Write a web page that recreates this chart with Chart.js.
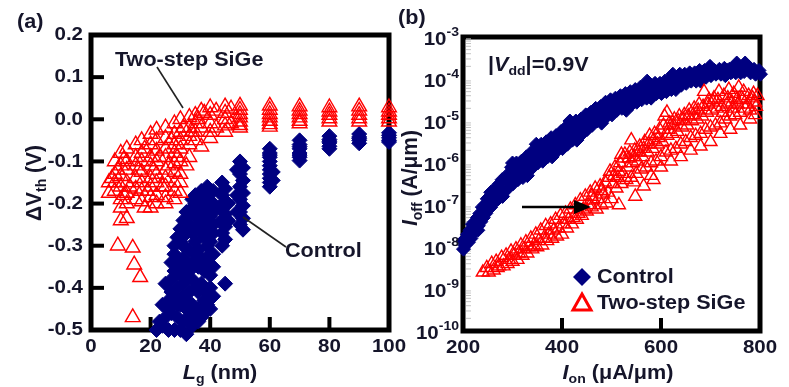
<!DOCTYPE html>
<html><head><meta charset="utf-8">
<script src="https://cdn.jsdelivr.net/npm/chart.js@4.4.1/dist/chart.umd.min.js"></script>
<style>
html,body{margin:0;padding:0;background:#fff;}
#wrap{position:relative;width:789px;height:387px;background:#fff;}
canvas{position:absolute;left:0;top:0;width:789px;height:387px;}
</style></head><body>
<div id="wrap"><canvas id="ca" width="789" height="387"></canvas><canvas id="cb" width="789" height="387"></canvas></div>
<script>
// ---------------- Panel (a): ΔVth vs Lg ----------------
const seriesNames = ['Control', 'Two-step SiGe'];
const lgTicks = [0, 20, 40, 60, 80, 100];
const lgLabels = ['0', '20', '40', '60', '80', '100'];
const dvTicks = [0.2, 0.1, 0.0, -0.1, -0.2, -0.3, -0.4, -0.5];
const dvLabels = ['0.2', '0.1', '0.0', '-0.1', '-0.2', '-0.3', '-0.4', '-0.5'];

const ctrlLg = [
  100,100,100,100,100, 90,90,90,90,90, 80,80,80,80,80,80, 70,70,70,70,70,70,70,70,
  60,60,60,60,60,60,60,60,60,60,60,61,61,
  50,51,50,51,50,51,50,51,50,51,50,51,49,49,49,
  44,45,44,45,44,45,44,45,44,45,44,45,46,46,
  22,24,26,28,30,32,25,27,29,31,33,35,
  24,26,28,30,32,34,36,38,40,
  25,27,29,31,33,35,37,39,41,
  27,28,30,31,33,34,36,38,40,
  28,29,30,31,32,33,35,36,37,39,41,
  31,32,33,34,35,36,37,38,39,40,41,
  34,35,36,37,38,39,40,41,
  23,26,29,32,34,36,27,30,32,34,36,38,29,32,35,37,39,30,34,38,40,33,36,38,40,35,37,39,41,41,41,40,41,40,39,37,31,28
];
const ctrlDV = [
  -0.032,-0.038,-0.044,-0.05,-0.054, -0.035,-0.042,-0.046,-0.05,-0.057, -0.04,-0.048,-0.052,-0.056,-0.064,-0.07, -0.05,-0.06,-0.065,-0.07,-0.08,-0.085,-0.09,-0.098,
  -0.07,-0.08,-0.085,-0.09,-0.1,-0.11,-0.12,-0.13,-0.14,-0.15,-0.16,-0.125,-0.145,
  -0.1,-0.115,-0.13,-0.145,-0.16,-0.175,-0.19,-0.205,-0.22,-0.235,-0.25,-0.262,-0.12,-0.18,-0.22,
  -0.15,-0.165,-0.18,-0.195,-0.21,-0.225,-0.24,-0.255,-0.27,-0.285,-0.3,-0.39,-0.2,-0.24,
  -0.5,-0.49,-0.5,-0.5,-0.5,-0.51,-0.47,-0.46,-0.47,-0.48,-0.47,-0.46,
  -0.44,-0.43,-0.42,-0.44,-0.43,-0.44,-0.45,-0.46,-0.45,
  -0.39,-0.38,-0.4,-0.39,-0.41,-0.4,-0.39,-0.41,-0.42,
  -0.34,-0.32,-0.35,-0.33,-0.36,-0.34,-0.35,-0.36,-0.37,
  -0.3,-0.28,-0.26,-0.3,-0.27,-0.31,-0.29,-0.31,-0.27,-0.3,-0.32,
  -0.24,-0.22,-0.25,-0.21,-0.23,-0.25,-0.22,-0.24,-0.26,-0.23,-0.25,
  -0.19,-0.2,-0.18,-0.19,-0.17,-0.18,-0.17,-0.2,
  -0.48,-0.45,-0.44,-0.45,-0.49,-0.48,-0.41,-0.37,-0.38,-0.38,-0.41,-0.43,-0.33,-0.34,-0.32,-0.33,-0.34,-0.29,-0.27,-0.28,-0.29,-0.23,-0.21,-0.21,-0.2,-0.18,-0.17,-0.16,-0.17,-0.22,-0.27,-0.32,-0.35,-0.4,-0.44,-0.47,-0.42,-0.36
];
const sigeLg = [
  100,100,100,100,100, 90,90,90,90,90, 80,80,80,80,80, 70,70,70,70,70,70,
  60,60,60,60,60,60,60, 50,50,50,50,50,50,50, 45,45,45,45,45, 40,40,40,40,40,
  37,37,37, 35,35,35,35, 33,33,33,33,33,
  30,30,30,30,30,30,30,30, 28,28,28,28,28,28,28,28,28,
  25,25,25,25,25,25,25,25,25, 22,22,22,22,22,22,22,22,
  20,20,20,20,20,20,20,20, 17,17,17,17,17,17,17, 15,15,15,15,15,15,
  12,12,12,12,12,12,12, 10,10,10,10,10,10,10, 8,8,8,8, 6,6,
  9,14,14.5,16.5,14,
  7,9,11,13,16,18,19,21,23,24,26,27,29,31,32,34,36,38,42,42,47,47,11,18
];
const sigeDV = [
  0.028,0.018,0.01,0.002,-0.006, 0.03,0.02,0.01,0.002,-0.006, 0.028,0.018,0.01,0.002,-0.006, 0.03,0.02,0.012,0.004,-0.004,-0.01,
  0.032,0.022,0.012,0.004,-0.004,-0.012,-0.018, 0.032,0.022,0.012,0.004,-0.006,-0.014,-0.02, 0.03,0.015,0.0,-0.015,-0.03, 0.028,0.01,-0.01,-0.03,-0.045,
  0.02,-0.02,-0.065, 0.01,-0.01,-0.03,-0.05, 0.005,-0.02,-0.04,-0.06,-0.09,
  0.0,-0.03,-0.05,-0.07,-0.1,-0.13,-0.15,-0.175, -0.01,-0.035,-0.06,-0.08,-0.105,-0.125,-0.15,-0.17,-0.19,
  -0.02,-0.045,-0.07,-0.09,-0.12,-0.14,-0.16,-0.185,-0.2, -0.025,-0.05,-0.075,-0.1,-0.13,-0.15,-0.18,-0.2,
  -0.035,-0.06,-0.09,-0.11,-0.14,-0.16,-0.185,-0.21, -0.05,-0.08,-0.1,-0.125,-0.15,-0.17,-0.195, -0.06,-0.09,-0.11,-0.14,-0.165,-0.19,
  -0.07,-0.1,-0.12,-0.15,-0.175,-0.2,-0.235, -0.08,-0.11,-0.135,-0.16,-0.19,-0.21,-0.24, -0.1,-0.13,-0.15,-0.17, -0.15,-0.175,
  -0.3,-0.305,-0.345,-0.375,-0.47,
  -0.14,-0.12,-0.095,-0.16,-0.12,-0.07,-0.17,-0.12,-0.09,-0.16,-0.11,-0.05,-0.09,-0.02,-0.11,-0.03,0.0,0.015,0.02,-0.02,0.025,-0.01,-0.18,-0.21
];

// ---------------- Panel (b): Ioff vs Ion ----------------
const ionTicks = [200, 400, 600, 800];
const ionLabels = ['200', '400', '600', '800'];
const ioffTicks = [1e-3, 1e-4, 1e-5, 1e-6, 1e-7, 1e-8, 1e-9, 1e-10];
const ioffExponents = ['-3', '-4', '-5', '-6', '-7', '-8', '-9', '-10'];

const ctrlIon = [
  200,201,204,206,209,211,214,216,219,221,224,226,229,231,234,236,239,241,244,246,249,251,254,256,259,261,264,266,269,271,274,276,279,281,
  288,291,294, 298,301,304, 308,311,314, 318,321,324, 328,331,334, 338,341,344, 348,351,354, 358,361,364, 368,371,374, 378,381,384,
  388,391,394, 398,401,404, 408,411,414, 418,421,424, 428,431,434, 438,441,444, 448,451,454, 458,461,464, 468,471,474, 478,481,484,
  488,491,494, 498,501,504, 508,511,514, 518,521,524, 528,531,534, 538,541,544, 548,551,554, 558,561,564, 568,571,574, 578,581,584,
  588,591,594, 598,601,604, 608,611,614, 618,621,624, 628,631,634, 638,641,644, 648,651,654, 658,661,664, 668,671,674, 678,681,684,
  688,691,694, 698,701,704, 708,711,714, 718,721,724, 728,731,734, 738,741,744, 748,751,754, 758,761,764, 770,768,774,
  778,781, 788,791, 798,801,
  256,300,348,416,572,624,699,753, 230,280,330,380,430,480,530,580,630,680,730
];
const ctrlIoff = [
  1.4e-8,8.9e-9,1.1e-8,1.6e-8,2.0e-8,1.3e-8,2.5e-8,1.6e-8,3.5e-8,2.2e-8,4.0e-8,2.5e-8,5.0e-8,3.2e-8,6.3e-8,4.0e-8,8.9e-8,5.0e-8,1.0e-7,6.3e-8,1.4e-7,7.9e-8,1.6e-7,8.9e-8,2.0e-7,1.1e-7,2.2e-7,1.3e-7,2.8e-7,1.4e-7,3.2e-7,1.6e-7,4.0e-7,2.0e-7,
  5.0e-7,2.5e-7,3.5e-7, 7.9e-7,3.2e-7,5.0e-7, 1.0e-6,4.0e-7,6.3e-7, 1.1e-6,4.5e-7,7.1e-7, 1.4e-6,6.3e-7,1.0e-6, 1.8e-6,7.9e-7,1.1e-6, 2.0e-6,1.0e-6,1.4e-6, 2.8e-6,1.1e-6,1.8e-6, 3.2e-6,1.4e-6,2.2e-6, 4.0e-6,1.8e-6,2.5e-6,
  4.5e-6,2.0e-6,3.2e-6, 5.6e-6,2.2e-6,3.5e-6, 7.1e-6,2.8e-6,4.5e-6, 7.9e-6,3.5e-6,5.0e-6, 1.0e-5,4.5e-6,6.3e-6, 1.1e-5,5.0e-6,7.9e-6, 1.4e-5,6.3e-6,8.9e-6, 1.6e-5,7.9e-6,1.1e-5, 2.0e-5,1.0e-5,1.4e-5, 2.2e-5,1.1e-5,1.6e-5,
  2.8e-5,1.3e-5,2.0e-5, 3.2e-5,1.4e-5,2.2e-5, 3.5e-5,1.8e-5,2.5e-5, 4.0e-5,2.0e-5,2.8e-5, 4.5e-5,2.2e-5,3.2e-5, 5.0e-5,2.5e-5,3.5e-5, 5.6e-5,2.8e-5,4.0e-5, 6.3e-5,3.2e-5,4.5e-5, 7.1e-5,3.5e-5,5.0e-5, 7.1e-5,4.0e-5,5.6e-5,
  7.9e-5,4.5e-5,5.6e-5, 7.9e-5,4.5e-5,6.3e-5, 8.9e-5,5.0e-5,7.1e-5, 1.0e-4,5.6e-5,7.9e-5, 1.1e-4,6.3e-5,7.9e-5, 1.3e-4,7.1e-5,8.9e-5, 1.3e-4,7.9e-5,1.0e-4, 1.4e-4,8.9e-5,1.1e-4, 1.4e-4,8.9e-5,1.1e-4, 1.6e-4,1.0e-4,1.3e-4,
  1.6e-4,1.1e-4,1.3e-4, 1.6e-4,1.2e-4,1.4e-4, 1.6e-4,1.3e-4,1.4e-4, 1.7e-4,1.3e-4,1.5e-4, 1.8e-4,1.3e-4,1.6e-4, 1.7e-4,1.4e-4,1.5e-4, 1.9e-4,1.4e-4,1.6e-4, 1.8e-4,1.4e-4,1.6e-4, 2.4e-4,1.5e-4,1.8e-4,
  1.9e-4,1.4e-4, 1.7e-4,1.3e-4, 1.6e-4,1.3e-4,
  2.0e-7,1.0e-6,2.8e-6,1.0e-5,8.9e-5,1.3e-4,2.0e-4,2.4e-4, 2.5e-8,1.6e-7,5.0e-7,1.4e-6,3.5e-6,8.9e-6,1.8e-5,3.5e-5,5.6e-5,8.9e-5,1.2e-4
];
const sigeIon = [
  240, 248,252, 258,262, 267,270,273, 278,282, 287,290,293, 297,300,303, 307,310,313, 317,320,323, 327,330,333, 337,340,343,
  347,350,353, 357,360,363, 367,370,373, 377,380,383, 387,390,393, 397,400,403, 407,410,413, 417,420,423, 427,430,433, 437,440,443,
  447,450,453, 457,460,463, 467,470,473, 477,480,483, 487,490,493, 497,500,503, 507,510,513, 517,520,523, 527,530,533, 537,540,543,
  547,550,553, 557,560,563, 567,570,573, 577,580,583, 587,590,593, 597,600,603, 607,610,613, 617,620,623, 627,630,633, 637,640,643,
  647,650,653, 657,660,663, 667,670,673, 677,680,683, 687,690,693, 697,700,703, 707,710,713, 717,720,723, 727,730,733, 737,740,743,
  747,750,753, 757,760,763, 767,770, 777,780, 787,790, 795,
  460,480,495,505,515,520,525,535,540,545,555,565,575,585,595,605,612,615,625,635,645,655,665,675,685,695,705,715,725,735,745,755,765,775,785,792,
  515,548,565,585,600,620,640,660,680,700,720,740,760,780,790,545,580
];
const sigeIoff = [
  2.5e-9, 3.2e-9,2.5e-9, 4.0e-9,2.8e-9, 4.5e-9,3.2e-9,3.5e-9, 5.6e-9,3.5e-9, 6.3e-9,4.0e-9,5.0e-9, 7.9e-9,4.5e-9,6.3e-9, 8.9e-9,5.0e-9,7.1e-9, 1.1e-8,6.3e-9,8.9e-9, 1.3e-8,7.1e-9,1.0e-8, 1.6e-8,8.9e-9,1.1e-8,
  2.0e-8,1.0e-8,1.4e-8, 2.5e-8,1.1e-8,1.6e-8, 3.2e-8,1.4e-8,2.0e-8, 3.5e-8,1.6e-8,2.5e-8, 4.5e-8,1.8e-8,2.8e-8, 5.6e-8,2.0e-8,3.5e-8, 6.3e-8,2.8e-8,4.5e-8, 7.9e-8,3.5e-8,5.0e-8, 1.0e-7,4.5e-8,6.3e-8, 1.3e-7,5.6e-8,7.9e-8,
  1.6e-7,7.1e-8,1.0e-7, 2.0e-7,8.9e-8,1.3e-7, 2.5e-7,7.9e-8,1.4e-7, 2.8e-7,1.0e-7,1.8e-7, 3.5e-7,1.1e-7,2.0e-7, 6.3e-7,1.4e-7,3.2e-7, 7.9e-7,2.5e-7,4.5e-7, 1.0e-6,3.2e-7,5.6e-7, 1.6e-6,4.0e-7,7.9e-7, 1.8e-6,4.5e-7,1.0e-6,
  2.0e-6,5.6e-7,1.1e-6, 2.5e-6,7.1e-7,1.4e-6, 3.2e-6,7.9e-7,1.8e-6, 4.5e-6,1.0e-6,2.2e-6, 5.0e-6,1.1e-6,2.8e-6, 6.3e-6,1.4e-6,3.2e-6, 1.3e-5,1.8e-6,4.5e-6, 8.9e-6,2.0e-6,5.0e-6, 1.1e-5,2.2e-6,5.6e-6, 1.3e-5,2.8e-6,7.1e-6,
  1.4e-5,3.2e-6,7.9e-6, 1.8e-5,4.0e-6,1.0e-5, 2.0e-5,4.5e-6,1.1e-5, 2.5e-5,5.0e-6,1.3e-5, 5.0e-5,6.3e-6,1.6e-5, 3.2e-5,7.1e-6,1.8e-5, 3.5e-5,7.9e-6,2.0e-5, 5.0e-5,8.9e-6,2.2e-5, 4.0e-5,1.1e-5,2.5e-5, 5.6e-5,1.3e-5,2.8e-5,
  4.5e-5,1.4e-5,3.2e-5, 6.3e-5,1.6e-5,3.5e-5, 5.0e-5,2.0e-5, 4.0e-5,1.8e-5, 4.5e-5,2.8e-5, 4.0e-5,
  1.6e-7,2.2e-7,4.5e-7,5.0e-7,6.3e-7,1.6e-6,1.3e-6,1.3e-6,3.5e-6,1.4e-6,1.8e-6,2.2e-6,2.8e-6,3.5e-6,4.0e-6,7.9e-6,1.6e-5,6.3e-6,7.9e-6,1.0e-5,1.1e-5,1.3e-5,1.4e-5,1.8e-5,2.2e-5,2.5e-5,2.8e-5,3.2e-5,1.6e-5,3.5e-5,2.0e-5,2.5e-5,3.2e-5,2.5e-5,3.5e-5,2.2e-5,
  1.0e-7,1.6e-7,2.8e-7,4.0e-7,7.9e-7,1.1e-6,1.4e-6,2.0e-6,2.5e-6,3.2e-6,5.0e-6,6.3e-6,7.9e-6,1.1e-5,1.4e-5,3.5e-7,5.0e-7
];

// ---------------- styling helpers ----------------
const NAVY = '#000080', RED = '#ff0000', INK = '#15152a';
const FAM = "'Liberation Sans', Arial, Helvetica, sans-serif";
const SX = 1.08; // horizontal stretch of the reference lettering
function fnt(size, it) { return (it ? 'italic ' : '') + 'bold ' + size + 'px ' + FAM; }
function rich(ctx, parts, x, y, size, align, rot) {
  ctx.save();
  ctx.translate(x, y);
  ctx.scale(SX, 1);
  if (rot) ctx.rotate(rot);
  ctx.fillStyle = INK;
  ctx.textBaseline = 'middle';
  ctx.textAlign = 'left';
  const sizes = parts.map(p => (p.sub || p.sup) ? Math.round(size * 0.66) : size);
  const widths = parts.map((p, i) => { ctx.font = fnt(sizes[i], p.i); return ctx.measureText(p.t).width; });
  const total = widths.reduce((a, b) => a + b, 0);
  let cx = align === 'center' ? -total / 2 : align === 'right' ? -total : 0;
  parts.forEach((p, i) => {
    ctx.font = fnt(sizes[i], p.i);
    const dy = p.sub ? size * 0.32 : p.sup ? -size * 0.38 : 0;
    ctx.fillText(p.t, cx, dy);
    cx += widths[i];
  });
  ctx.restore();
}
function line(ctx, x1, y1, x2, y2, w, c) {
  ctx.save(); ctx.beginPath(); ctx.moveTo(x1, y1); ctx.lineTo(x2, y2);
  ctx.lineWidth = w; ctx.strokeStyle = c || '#000'; ctx.stroke(); ctx.restore();
}
function frame(chart) {
  const { left, right, top, bottom } = chart.chartArea, ctx = chart.ctx;
  ctx.save(); ctx.lineWidth = 5; ctx.strokeStyle = '#000';
  ctx.strokeRect(left, top, right - left, bottom - top); ctx.restore();
}

const basePlugins = { legend: { display: false }, tooltip: { enabled: false } };

// ---------------- chart (a) ----------------
const panelA = {
  id: 'panelA',
  beforeDatasetsDraw(chart) {
    frame(chart);
    const { left, bottom } = chart.chartArea, ctx = chart.ctx;
    const xs = chart.scales.x, ys = chart.scales.y;
    dvTicks.slice(1, -1).forEach(v => { const y = ys.getPixelForValue(v); line(ctx, left, y, left + 13, y, 4); });
    lgTicks.slice(1, -1).forEach(v => { const x = xs.getPixelForValue(v); line(ctx, x, bottom, x, bottom - 13, 4); });
  },
  afterDraw(chart) {
    const ctx = chart.ctx, xs = chart.scales.x, ys = chart.scales.y;
    dvTicks.forEach((v, i) => rich(ctx, [{ t: dvLabels[i] }], 83, ys.getPixelForValue(v), 19, 'right'));
    lgTicks.forEach((v, i) => rich(ctx, [{ t: lgLabels[i] }], xs.getPixelForValue(v), 347, 19, 'center'));
    rich(ctx, [{ t: 'Δ' }, { t: 'V' }, { t: 'th', sub: true }, { t: ' (V)' }], 35, 183, 21, 'center', -Math.PI / 2);
    rich(ctx, [{ t: 'L', i: true }, { t: 'g', sub: true }, { t: ' (nm)' }], 220, 373, 20, 'center');
    rich(ctx, [{ t: '(a)' }], 17, 22, 20, 'left');
    // annotations
    rich(ctx, [{ t: seriesNames[1] }], 115, 60, 20, 'left');
    line(ctx, 157, 67, 183, 108, 1.6, '#222');
    rich(ctx, [{ t: seriesNames[0] }], 285, 251, 20, 'left');
    line(ctx, 243, 217, 286, 247, 1.6, '#222');
  }
};

new Chart(document.getElementById('ca'), {
  type: 'scatter',
  data: {
    datasets: [
      { label: seriesNames[0], data: ctrlLg.map((x, i) => ({ x, y: ctrlDV[i] })), pointStyle: 'rectRot', pointRadius: 7.5,
        pointBackgroundColor: NAVY, pointBorderColor: NAVY, pointBorderWidth: 1, clip: false, order: 1 },
      { label: seriesNames[1], data: sigeLg.map((x, i) => ({ x, y: sigeDV[i] })), pointStyle: 'triangle', pointRadius: 8.5,
        pointBackgroundColor: 'rgba(255,255,255,0)', pointBorderColor: RED, pointBorderWidth: 1.4, clip: false, order: 0 }
    ]
  },
  options: {
    responsive: false, animation: false, events: [],
    layout: { padding: { left: 91, right: 400, top: 35, bottom: 57 } },
    plugins: basePlugins,
    scales: {
      x: { type: 'linear', min: 0, max: 100, display: false },
      y: { type: 'linear', min: -0.5, max: 0.2, display: false }
    }
  },
  plugins: [panelA]
});

// ---------------- chart (b) ----------------
const panelB = {
  id: 'panelB',
  beforeDatasetsDraw(chart) {
    frame(chart);
    const { left, bottom } = chart.chartArea, ctx = chart.ctx;
    const xs = chart.scales.x, ys = chart.scales.y;
    for (let d = -10; d < -3; d++) {
      for (let k = 2; k <= 9; k++) {
        const y = ys.getPixelForValue(k * Math.pow(10, d));
        line(ctx, left + 3, y, left + 8, y, 1, '#c4c4c4');
      }
    }
    ionTicks.slice(1, -1).forEach(v => { const x = xs.getPixelForValue(v); line(ctx, x, bottom, x, bottom - 13, 4); });
  },
  afterDraw(chart) {
    const ctx = chart.ctx, xs = chart.scales.x, ys = chart.scales.y;
    ioffTicks.forEach((v, i) => rich(ctx, [{ t: '10' }, { t: ioffExponents[i], sup: true }], 459, ys.getPixelForValue(v) + 3, 19, 'right'));
    ionTicks.forEach((v, i) => rich(ctx, [{ t: ionLabels[i] }], xs.getPixelForValue(v), 348, 19, 'center'));
    rich(ctx, [{ t: 'I', i: true }, { t: 'off', sub: true }, { t: ' (A/μm)' }], 411, 178, 21, 'center', -Math.PI / 2);
    rich(ctx, [{ t: 'I', i: true }, { t: 'on', sub: true }, { t: ' (μA/μm)' }], 618, 373, 20, 'center');
    rich(ctx, [{ t: '(b)' }], 398, 18, 20, 'left');
    rich(ctx, [{ t: '|' }, { t: 'V', i: true }, { t: 'dd', sub: true }, { t: '|=0.9V' }], 488, 65, 20, 'left');
    // arrow
    line(ctx, 522, 207, 578, 207, 2.6, '#000');
    ctx.save(); ctx.beginPath(); ctx.moveTo(591, 207); ctx.lineTo(574, 200); ctx.lineTo(574, 214); ctx.closePath();
    ctx.fillStyle = '#000'; ctx.fill(); ctx.restore();
    // legend
    ctx.save();
    ctx.beginPath(); ctx.moveTo(582, 268); ctx.lineTo(591, 277); ctx.lineTo(582, 286); ctx.lineTo(573, 277); ctx.closePath();
    ctx.fillStyle = NAVY; ctx.fill();
    ctx.beginPath(); ctx.moveTo(582, 294); ctx.lineTo(591, 310); ctx.lineTo(573, 310); ctx.closePath();
    ctx.lineWidth = 3; ctx.strokeStyle = RED; ctx.lineJoin = 'miter'; ctx.stroke();
    ctx.restore();
    rich(ctx, [{ t: seriesNames[0] }], 597, 277, 20, 'left');
    rich(ctx, [{ t: seriesNames[1] }], 597, 303, 20, 'left');
  }
};

new Chart(document.getElementById('cb'), {
  type: 'scatter',
  data: {
    datasets: [
      { label: seriesNames[0], data: ctrlIon.map((x, i) => ({ x, y: ctrlIoff[i] })), pointStyle: 'rectRot', pointRadius: 7,
        pointBackgroundColor: NAVY, pointBorderColor: NAVY, pointBorderWidth: 1, clip: false, order: 1 },
      { label: seriesNames[1], data: sigeIon.map((x, i) => ({ x, y: sigeIoff[i] })), pointStyle: 'triangle', pointRadius: 7.5,
        pointBackgroundColor: 'rgba(255,255,255,0)', pointBorderColor: RED, pointBorderWidth: 1.4, clip: false, order: 0 }
    ]
  },
  options: {
    responsive: false, animation: false, events: [],
    layout: { padding: { left: 463, right: 29, top: 37, bottom: 56 } },
    plugins: basePlugins,
    scales: {
      x: { type: 'linear', min: 200, max: 800, display: false },
      y: { type: 'logarithmic', min: 1e-10, max: 1e-3, display: false }
    }
  },
  plugins: [panelB]
});
</script></body></html>
